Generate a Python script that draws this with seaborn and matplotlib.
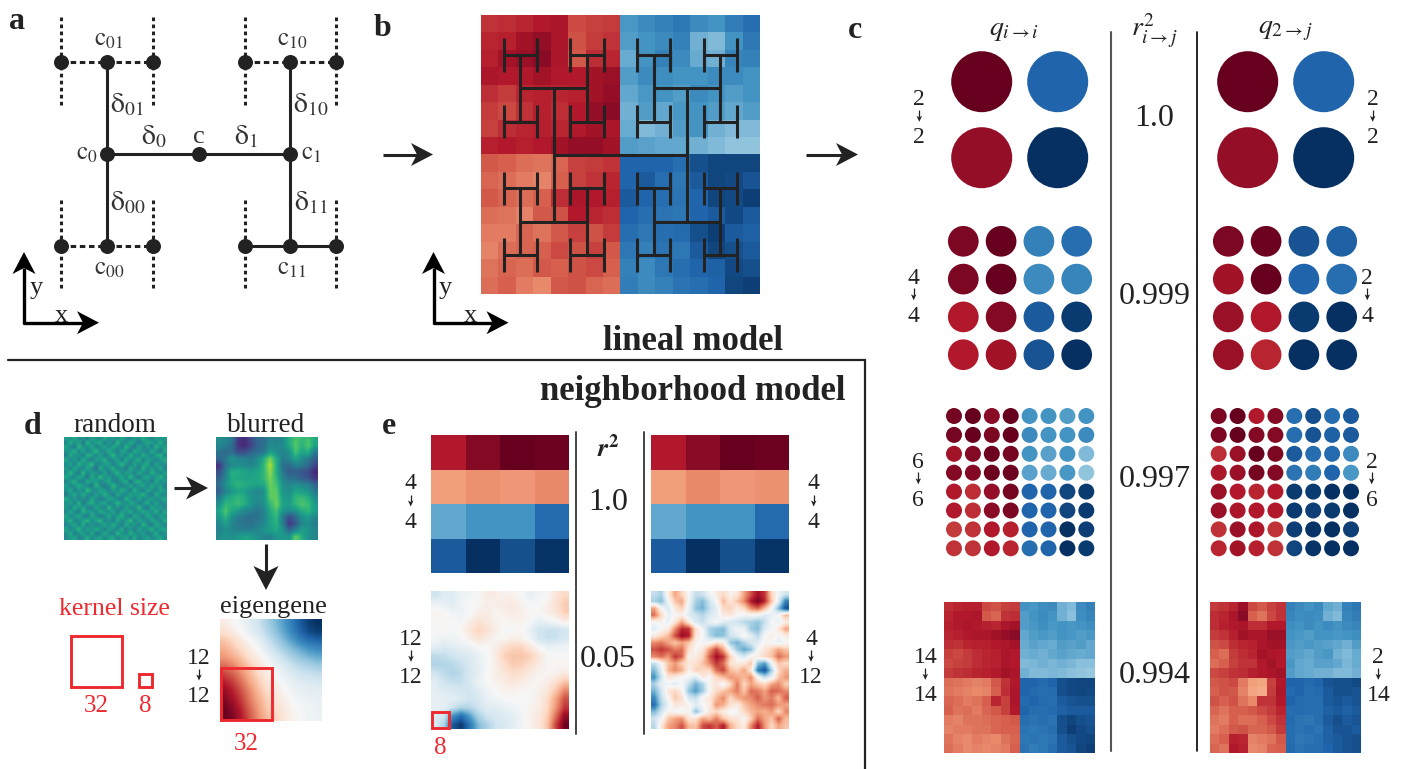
import numpy as np
import pandas as pd
import matplotlib
matplotlib.use("Agg")
import matplotlib.pyplot as plt
from matplotlib.patches import Polygon, Rectangle
import seaborn as sns

# ---------- data (0 = dark red end, 100 = dark blue end) ----------
c2_left = [[0, 90], [6, 100]]
c2_right = [[0, 90], [6, 100]]
c4_left = [[3, 0, 84, 88], [3, 0, 82, 83], [10, 4, 92, 98], [10, 8, 93, 100]]
c4_right = [[3, 1, 93, 91], [8, 0, 90, 88], [7, 10, 98, 100], [7, 12, 100, 100]]
c6_left = [
    [2, 0, 5, 0, 80, 80, 78, 80],
    [2, 0, 3, 0, 82, 80, 80, 82],
    [8, 4, 1, 2, 80, 77, 80, 72],
    [4, 4, 1, 1, 77, 75, 79, 70],
    [10, 13, 6, 2, 90, 90, 96, 98],
    [10, 13, 5, 3, 90, 90, 96, 98],
    [15, 14, 10, 11, 90, 90, 100, 97],
    [14, 14, 10, 12, 88, 90, 100, 98],
]
c6_right = [
    [3, 0, 10, 4, 88, 94, 88, 92],
    [3, 0, 4, 4, 88, 93, 91, 92],
    [13, 7, 0, 3, 92, 88, 89, 82],
    [9, 7, 2, 4, 87, 85, 90, 79],
    [7, 10, 12, 10, 98, 98, 100, 100],
    [7, 9, 10, 10, 98, 97, 98, 100],
    [14, 7, 9, 14, 97, 99, 100, 97],
    [12, 8, 11, 14, 96, 99, 100, 100],
]
b_grid = [
    [14, 13, 12, 10, 9, 17, 16, 15, 79, 82, 84, 86, 82, 80, 85, 88],
    [12, 11, 8, 6, 9, 18, 15, 14, 78, 80, 82, 84, 74, 72, 80, 86],
    [11, 8, 7, 5, 9, 19, 13, 12, 75, 80, 84, 82, 75, 74, 83, 84],
    [9, 10, 10, 8, 10, 10, 8, 7, 78, 82, 81, 80, 80, 82, 82, 80],
    [13, 15, 12, 11, 12, 11, 8, 6, 76, 79, 80, 78, 82, 80, 78, 80],
    [15, 17, 14, 11, 13, 10, 6, 5, 74, 78, 76, 79, 80, 78, 76, 78],
    [16, 13, 12, 11, 12, 10, 8, 9, 75, 72, 74, 78, 80, 74, 72, 72],
    [11, 10, 11, 10, 8, 6, 6, 8, 78, 77, 76, 76, 74, 72, 70, 70],
    [19, 20, 22, 23, 21, 16, 15, 14, 90, 90, 90, 88, 94, 96, 96, 96],
    [21, 22, 24, 25, 20, 16, 14, 12, 90, 92, 88, 86, 92, 96, 95, 93],
    [19, 21, 22, 20, 13, 9, 10, 11, 92, 90, 88, 87, 90, 96, 95, 97],
    [22, 23, 25, 19, 18, 10, 12, 13, 90, 88, 87, 86, 90, 92, 95, 92],
    [24, 24, 21, 23, 19, 16, 18, 15, 88, 86, 88, 89, 94, 97, 92, 91],
    [25, 22, 21, 20, 17, 18, 16, 19, 86, 84, 87, 86, 92, 96, 94, 92],
    [23, 21, 22, 19, 20, 18, 17, 20, 84, 82, 86, 88, 90, 91, 95, 94],
    [22, 20, 24, 26, 19, 18, 21, 22, 85, 82, 84, 87, 88, 90, 96, 97],
]
c14_left = [
    [13, 12, 11, 11, 17, 18, 16, 15, 80, 79, 81, 82, 74, 72, 82, 84],
    [12, 10, 10, 9, 19, 21, 14, 13, 78, 80, 82, 80, 74, 71, 81, 83],
    [11, 10, 9, 10, 11, 12, 9, 8, 78, 79, 81, 79, 80, 79, 80, 81],
    [12, 11, 10, 9, 9, 8, 6, 5, 76, 78, 79, 78, 80, 79, 78, 79],
    [13, 14, 12, 11, 11, 10, 9, 8, 75, 77, 76, 75, 78, 77, 78, 76],
    [16, 17, 15, 13, 12, 11, 9, 10, 74, 75, 74, 76, 77, 76, 75, 76],
    [17, 16, 15, 13, 12, 11, 9, 10, 72, 73, 74, 73, 74, 73, 71, 71],
    [15, 14, 13, 12, 11, 10, 8, 9, 74, 72, 72, 73, 72, 71, 70, 69],
    [22, 23, 24, 25, 24, 19, 14, 10, 90, 90, 89, 90, 94, 95, 96, 96],
    [23, 24, 25, 26, 25, 20, 13, 9, 90, 89, 88, 89, 94, 95, 96, 95],
    [21, 22, 24, 23, 20, 12, 16, 9, 89, 90, 89, 88, 92, 93, 94, 94],
    [20, 23, 22, 24, 21, 19, 16, 10, 90, 88, 88, 89, 91, 92, 92, 92],
    [24, 25, 23, 23, 22, 21, 20, 19, 88, 87, 88, 87, 94, 96, 94, 93],
    [25, 24, 24, 23, 23, 21, 20, 20, 87, 86, 87, 88, 94, 97, 95, 94],
    [23, 25, 26, 24, 25, 26, 23, 21, 86, 87, 86, 87, 92, 94, 95, 96],
    [22, 24, 26, 25, 26, 25, 24, 20, 87, 85, 86, 88, 92, 93, 96, 97],
]
c14_right = [
    [15, 14, 12, 7, 17, 19, 16, 14, 84, 82, 80, 82, 76, 74, 84, 86],
    [13, 12, 9, 5, 20, 23, 17, 14, 83, 81, 82, 81, 74, 72, 83, 85],
    [13, 11, 10, 9, 13, 13, 10, 10, 81, 80, 82, 80, 82, 80, 82, 83],
    [15, 14, 11, 8, 9, 9, 7, 7, 80, 79, 78, 80, 80, 79, 80, 81],
    [18, 17, 13, 12, 11, 9, 8, 8, 79, 78, 79, 78, 77, 76, 74, 78],
    [20, 22, 15, 13, 12, 8, 9, 10, 78, 77, 76, 78, 79, 74, 72, 75],
    [22, 20, 16, 14, 14, 10, 8, 10, 79, 76, 75, 77, 77, 76, 73, 75],
    [17, 16, 14, 13, 11, 10, 9, 8, 78, 76, 75, 74, 74, 72, 72, 74],
    [19, 18, 17, 24, 29, 30, 16, 10, 90, 90, 89, 90, 93, 94, 94, 95],
    [20, 18, 19, 25, 30, 31, 15, 9, 89, 90, 88, 89, 92, 94, 94, 93],
    [18, 20, 18, 23, 26, 14, 14, 10, 90, 89, 88, 88, 92, 93, 92, 93],
    [21, 23, 20, 20, 19, 17, 15, 12, 88, 89, 88, 88, 91, 92, 91, 92],
    [23, 24, 20, 22, 22, 20, 17, 14, 89, 87, 86, 88, 92, 94, 92, 93],
    [24, 22, 19, 18, 21, 21, 19, 15, 88, 87, 88, 87, 91, 93, 93, 92],
    [22, 20, 11, 12, 25, 24, 23, 19, 88, 86, 87, 88, 91, 92, 93, 94],
    [21, 23, 10, 11, 26, 25, 21, 20, 89, 87, 88, 88, 90, 92, 93, 94],
]
random_grid = [
    [58, 50, 62, 47, 55, 42, 60, 52, 45, 63, 50, 57, 46, 61, 52, 44, 58, 49, 64, 53, 46, 59, 50, 55],
    [45, 63, 52, 58, 40, 66, 48, 57, 62, 44, 55, 41, 68, 50, 47, 62, 53, 42, 52, 60, 55, 47, 63, 48],
    [60, 48, 41, 67, 52, 50, 61, 43, 52, 58, 47, 62, 53, 45, 66, 51, 40, 60, 47, 56, 43, 65, 52, 57],
    [50, 55, 64, 46, 59, 44, 53, 68, 47, 50, 64, 51, 44, 60, 53, 42, 62, 55, 50, 45, 62, 50, 41, 60],
    [43, 61, 50, 53, 42, 65, 57, 46, 60, 42, 53, 68, 48, 55, 46, 65, 50, 47, 63, 52, 48, 58, 64, 46],
    [62, 47, 56, 44, 63, 49, 41, 58, 52, 66, 45, 50, 59, 43, 62, 48, 54, 65, 42, 58, 51, 44, 53, 62],
    [48, 58, 43, 66, 51, 55, 70, 44, 49, 56, 60, 42, 54, 67, 50, 44, 59, 46, 55, 62, 41, 60, 49, 52],
    [55, 44, 62, 49, 47, 60, 50, 36, 64, 47, 52, 63, 46, 51, 40, 61, 52, 43, 66, 48, 57, 46, 62, 44],
    [47, 67, 51, 42, 68, 45, 56, 52, 43, 60, 41, 55, 65, 48, 58, 53, 46, 62, 50, 44, 64, 52, 45, 59],
    [61, 50, 46, 60, 53, 40, 63, 48, 69, 50, 57, 44, 52, 61, 45, 67, 50, 41, 56, 60, 47, 55, 66, 50],
    [44, 56, 65, 48, 43, 62, 52, 59, 45, 54, 62, 48, 42, 56, 63, 38, 57, 64, 48, 52, 42, 61, 48, 56],
    [58, 46, 52, 63, 57, 47, 41, 66, 50, 42, 49, 67, 53, 44, 50, 59, 47, 52, 61, 45, 63, 50, 57, 42],
    [50, 62, 42, 55, 46, 69, 54, 46, 60, 53, 44, 58, 47, 64, 55, 42, 65, 48, 43, 60, 52, 46, 62, 54],
    [41, 53, 60, 47, 62, 50, 44, 58, 49, 65, 52, 41, 61, 50, 46, 60, 53, 57, 65, 47, 41, 63, 50, 47],
    [64, 48, 55, 44, 52, 43, 61, 52, 42, 46, 60, 55, 48, 42, 66, 51, 44, 60, 46, 55, 58, 47, 54, 60],
    [49, 58, 45, 66, 40, 56, 65, 47, 57, 61, 43, 50, 66, 55, 47, 62, 56, 42, 52, 63, 44, 60, 43, 52],
    [56, 43, 63, 52, 59, 48, 42, 60, 51, 44, 68, 47, 53, 43, 60, 45, 50, 67, 47, 41, 62, 50, 56, 45],
    [46, 61, 50, 42, 64, 53, 57, 45, 63, 55, 48, 60, 41, 58, 52, 63, 46, 53, 60, 55, 48, 66, 44, 62],
    [60, 47, 55, 61, 46, 41, 62, 52, 40, 50, 62, 46, 57, 65, 48, 41, 62, 50, 44, 63, 52, 42, 58, 50],
    [52, 65, 44, 50, 57, 67, 47, 58, 66, 45, 53, 42, 62, 47, 55, 68, 47, 58, 52, 46, 60, 54, 47, 63],
    [44, 51, 60, 46, 63, 43, 55, 44, 50, 61, 47, 64, 50, 42, 60, 51, 56, 43, 66, 50, 41, 62, 52, 45],
    [59, 46, 53, 66, 48, 58, 50, 63, 54, 42, 58, 52, 46, 63, 44, 57, 42, 61, 47, 56, 64, 46, 57, 60],
    [50, 62, 42, 52, 57, 45, 62, 42, 47, 64, 49, 43, 66, 52, 48, 62, 53, 49, 58, 42, 50, 63, 44, 52],
    [47, 54, 61, 44, 50, 64, 48, 55, 60, 46, 57, 61, 45, 55, 60, 46, 64, 44, 52, 60, 47, 53, 61, 48],
]
blurred_grid = [
    [50, 46, 40, 16, 12, 22, 34, 36, 46, 44, 48, 62, 72, 66, 70, 60],
    [46, 42, 36, 14, 12, 20, 32, 36, 48, 46, 48, 60, 74, 64, 72, 58],
    [38, 34, 36, 24, 24, 32, 36, 40, 56, 50, 44, 50, 70, 58, 62, 40],
    [34, 40, 52, 46, 44, 42, 48, 62, 80, 60, 42, 46, 58, 48, 42, 30],
    [14, 38, 46, 50, 48, 44, 52, 66, 88, 62, 36, 36, 44, 42, 34, 20],
    [24, 42, 62, 62, 58, 56, 58, 66, 84, 62, 40, 28, 30, 26, 22, 12],
    [32, 44, 62, 60, 58, 58, 60, 66, 80, 66, 44, 38, 36, 30, 26, 16],
    [36, 50, 60, 66, 62, 60, 58, 60, 78, 70, 50, 46, 50, 46, 44, 32],
    [30, 44, 52, 58, 56, 50, 46, 50, 76, 74, 52, 50, 58, 56, 52, 40],
    [42, 56, 62, 66, 62, 52, 48, 52, 74, 76, 56, 52, 66, 68, 62, 48],
    [50, 66, 64, 68, 62, 52, 46, 50, 66, 78, 58, 56, 66, 72, 68, 54],
    [58, 72, 60, 54, 46, 44, 38, 44, 62, 70, 52, 48, 52, 62, 66, 56],
    [52, 66, 50, 42, 38, 36, 38, 44, 58, 66, 40, 24, 34, 50, 54, 46],
    [46, 56, 46, 40, 38, 38, 42, 46, 56, 64, 44, 16, 28, 46, 50, 42],
    [44, 50, 46, 44, 44, 44, 46, 52, 56, 60, 50, 34, 46, 56, 52, 46],
    [48, 52, 50, 54, 58, 56, 50, 46, 44, 52, 54, 52, 76, 62, 50, 46],
]
eigen_grid = [
    [46, 49, 52, 56, 60, 66, 72, 78, 85, 92, 97, 100],
    [42, 46, 50, 54, 58, 64, 70, 76, 83, 90, 95, 97],
    [36, 40, 45, 50, 54, 60, 66, 72, 78, 84, 88, 90],
    [32, 36, 41, 46, 50, 56, 62, 67, 72, 76, 80, 82],
    [28, 31, 36, 42, 47, 52, 57, 62, 66, 70, 73, 75],
    [22, 25, 31, 37, 43, 48, 53, 57, 61, 64, 66, 68],
    [16, 20, 26, 33, 40, 46, 50, 54, 57, 60, 61, 62],
    [10, 15, 22, 30, 37, 43, 48, 51, 54, 56, 57, 58],
    [6, 11, 18, 26, 34, 40, 45, 49, 52, 54, 55, 55],
    [3, 8, 15, 24, 31, 38, 43, 47, 50, 52, 53, 54],
    [1, 5, 12, 21, 29, 36, 41, 45, 49, 51, 52, 53],
    [0, 3, 10, 19, 27, 34, 39, 44, 48, 50, 52, 53],
]
e4_left = [[10, 4, 0, 1], [29, 27, 28, 26], [76, 80, 80, 89], [92, 100, 94, 99]]
e4_right = [[10, 5, 0, 1], [29, 26, 28, 27], [76, 80, 80, 89], [92, 100, 94, 99]]
e12_left = [
    [60, 56, 56, 53, 52, 50, 46, 46, 48, 48, 50, 54, 52, 50, 44, 40],
    [53, 54, 56, 52, 50, 49, 47, 47, 46, 45, 48, 51, 50, 48, 42, 37],
    [48, 49, 52, 53, 51, 47, 46, 49, 47, 46, 47, 49, 50, 47, 44, 38],
    [49, 49, 50, 51, 47, 43, 45, 48, 49, 48, 48, 50, 54, 52, 50, 46],
    [50, 49, 51, 49, 44, 39, 42, 47, 50, 50, 49, 54, 60, 61, 61, 59],
    [51, 53, 52, 51, 47, 43, 46, 49, 49, 47, 48, 52, 59, 61, 61, 58],
    [55, 57, 56, 54, 53, 50, 50, 47, 42, 39, 39, 44, 50, 54, 53, 52],
    [63, 62, 60, 58, 57, 53, 51, 46, 38, 36, 36, 38, 44, 49, 50, 50],
    [65, 65, 64, 61, 58, 54, 51, 47, 41, 37, 38, 41, 46, 49, 49, 49],
    [60, 63, 65, 63, 58, 55, 50, 47, 44, 41, 42, 46, 48, 49, 48, 46],
    [56, 60, 62, 62, 58, 53, 50, 48, 46, 44, 46, 48, 49, 47, 42, 36],
    [55, 57, 58, 59, 59, 56, 52, 50, 48, 48, 49, 49, 48, 44, 36, 26],
    [54, 55, 55, 57, 60, 58, 54, 52, 50, 50, 50, 50, 47, 41, 30, 18],
    [54, 55, 60, 65, 64, 60, 56, 56, 54, 52, 50, 48, 46, 40, 28, 14],
    [57, 60, 80, 88, 78, 66, 60, 58, 57, 55, 52, 48, 45, 38, 22, 6],
    [58, 65, 92, 98, 86, 72, 66, 60, 58, 55, 52, 48, 44, 36, 16, 1],
]
e12_right = [
    [62, 66, 46, 30, 40, 50, 62, 60, 52, 46, 40, 48, 44, 30, 18, 8, 14, 40, 52, 60],
    [66, 72, 52, 36, 30, 52, 66, 72, 60, 50, 34, 44, 36, 26, 10, 2, 12, 36, 56, 84],
    [30, 50, 58, 44, 38, 54, 70, 74, 62, 56, 40, 38, 46, 40, 26, 20, 34, 50, 72, 94],
    [22, 40, 54, 50, 48, 56, 60, 64, 58, 54, 46, 44, 50, 52, 50, 52, 56, 54, 50, 34],
    [50, 48, 54, 44, 30, 46, 58, 62, 54, 50, 56, 58, 60, 64, 66, 70, 62, 50, 54, 46],
    [56, 50, 46, 26, 12, 14, 42, 52, 66, 70, 72, 58, 52, 54, 68, 72, 56, 52, 44, 30],
    [46, 40, 34, 18, 6, 10, 44, 50, 64, 72, 70, 60, 56, 48, 56, 64, 50, 46, 52, 46],
    [26, 24, 30, 36, 30, 36, 48, 52, 50, 42, 46, 68, 74, 66, 58, 56, 48, 50, 54, 50],
    [18, 14, 18, 24, 22, 42, 50, 44, 28, 16, 30, 52, 68, 76, 70, 50, 44, 38, 30, 36],
    [26, 22, 28, 14, 20, 48, 46, 40, 20, 8, 14, 38, 52, 58, 48, 46, 40, 36, 22, 28],
    [62, 50, 36, 28, 38, 44, 42, 36, 26, 14, 22, 42, 46, 44, 36, 70, 78, 52, 36, 40],
    [72, 56, 34, 26, 32, 48, 38, 40, 40, 22, 16, 34, 38, 30, 44, 84, 94, 66, 40, 32],
    [80, 60, 44, 46, 50, 52, 58, 44, 50, 40, 34, 28, 30, 34, 26, 50, 62, 54, 36, 28],
    [66, 54, 52, 56, 50, 62, 74, 66, 48, 44, 52, 40, 24, 40, 30, 36, 40, 30, 26, 38],
    [74, 60, 44, 40, 48, 70, 78, 68, 50, 40, 36, 30, 24, 36, 22, 24, 30, 20, 22, 26],
    [82, 62, 50, 36, 42, 58, 62, 48, 44, 34, 26, 40, 32, 28, 26, 20, 28, 24, 34, 20],
    [88, 66, 54, 44, 46, 48, 56, 50, 46, 28, 32, 42, 46, 36, 30, 26, 24, 22, 28, 30],
    [72, 60, 48, 50, 52, 48, 70, 56, 44, 40, 46, 52, 50, 40, 34, 30, 32, 28, 40, 26],
    [60, 52, 36, 30, 28, 44, 42, 30, 34, 24, 36, 42, 44, 50, 38, 22, 30, 36, 20, 34],
    [64, 44, 30, 26, 18, 34, 36, 18, 14, 20, 10, 32, 40, 46, 26, 10, 28, 40, 30, 36],
]
row_labels = ["2", "4", "6", "14"]
r2_values = ["1.0", "0.999", "0.997", "0.994"]

# ---------- set-up ----------
W, H = 1403, 769
sns.set_theme(style="white")
plt.rcParams["font.family"] = ["Liberation Serif", "DejaVu Serif"]
plt.rcParams["mathtext.fontset"] = "stix"
INK = "#222222"
RED = "#ee2a30"
fig = plt.figure(figsize=(W / 100, H / 100), dpi=100, facecolor="white")


def panel(x0, y0, x1, y1):
    ax = fig.add_axes([x0 / W, 1 - y1 / H, (x1 - x0) / W, (y1 - y0) / H])
    ax.set_axis_off()
    return ax


def heat(values, box, cmap="RdBu", smooth=False):
    ax = panel(*box)
    arr = np.asarray(values, dtype=float) / 100
    sns.heatmap(pd.DataFrame(arr), ax=ax, cmap=cmap, vmin=0, vmax=1, cbar=False,
                xticklabels=False, yticklabels=False, rasterized=True)
    if smooth:
        n, m = arr.shape
        ax.collections[0].set_visible(False)
        ax.imshow(arr, cmap=cmap, vmin=0, vmax=1, extent=(0, m, n, 0), aspect="auto",
                  interpolation="bilinear")
    ax.set_axis_off()
    return ax


def dots(values, left, top, step, diam):
    arr = np.asarray(values, dtype=float) / 100
    n = arr.shape[0]
    rows, cols = np.indices(arr.shape)
    df = pd.DataFrame({"row": rows.ravel(), "col": cols.ravel(), "v": arr.ravel()})
    ax = panel(left - step / 2, top - step / 2, left + (n - .5) * step, top + (n - .5) * step)
    sns.scatterplot(data=df, x="col", y="row", hue="v", palette="RdBu", hue_norm=(0, 1),
                    s=(diam * .72) ** 2, linewidth=0, legend=False, ax=ax, clip_on=False)
    ax.set_xlim(-.5, n - .5)
    ax.set_ylim(n - .5, -.5)
    ax.set_axis_off()


# ---------- heatmaps ----------
heat(b_grid, (481, 15, 760, 294))
heat(c14_left, (944, 602, 1095, 753))
heat(c14_right, (1210, 602, 1361, 753))
heat(random_grid, (64, 437, 167, 540), cmap="viridis", smooth=True)
heat(blurred_grid, (216, 437, 318, 540), cmap="viridis", smooth=True)
heat(eigen_grid, (220, 619, 322, 721), smooth=True)
heat(e4_left, (431, 435, 569, 573))
heat(e4_right, (651, 435, 789, 573))
heat(e12_left, (431, 591, 569, 729), smooth=True)
heat(e12_right, (651, 591, 789, 729), smooth=True)

# ---------- dot grids ----------
dots(c2_left, 981.7, 81.7, 76, 61)
dots(c2_right, 1247.7, 81.7, 76, 61)
dots(c4_left, 963.3, 241.3, 37.8, 30.7)
dots(c4_right, 1228.3, 241.3, 37.8, 30.7)
dots(c6_left, 954, 416, 18.9, 16)
dots(c6_right, 1218.7, 416, 18.9, 16)

# ---------- overlay in pixel coordinates ----------
ov = fig.add_axes([0, 0, 1, 1], zorder=10)
ov.set_xlim(0, W)
ov.set_ylim(H, 0)
ov.set_axis_off()
ov.patch.set_alpha(0)


def arrow(x0, y0, x1, y1, length=22, width=23, notch=6, lw=2.2, color=INK):
    d = np.array([x1 - x0, y1 - y0], dtype=float)
    d /= np.hypot(*d)
    p = np.array([-d[1], d[0]])
    tip = np.array([x1, y1], dtype=float)
    back = tip - d * length
    ov.plot([x0, (tip - d * (length - notch))[0]], [y0, (tip - d * (length - notch))[1]],
            color=color, lw=lw, solid_capstyle="butt")
    ov.add_patch(Polygon([tip, back + p * width / 2, tip - d * (length - notch),
                          back - p * width / 2], closed=True, fc=color, ec="none"))


def txt(x, y, s, size=17, color=INK, **kw):
    ov.text(x, y + size * .16, s, fontsize=size, color=color, ha="center", va="center", **kw)


def stack(x, y_top, y_bot, top, bot, size=17):
    txt(x, y_top, top, size)
    txt(x, y_bot, bot, size)
    mid = (y_top + y_bot) / 2
    arrow(x, mid - 6, x, mid + 6, length=6, width=5.5, notch=1.5, lw=0.9)


# panel a
xo = [61, 153, 244.7, 336.3]
xi = [107, 290.3]
yt, ym, yb = 62.3, 154.3, 246
for x in xo:
    for y0, y1 in [(17, 108), (200, 291)]:
        ov.plot([x, x], [y0, y1], color=INK, lw=2.2, dashes=(1.2, 1.1), zorder=1)
for xa, xb, y, solid in [(xo[0], xo[1], yt, False), (xo[2], xo[3], yt, False),
                         (xo[0], xo[1], yb, False), (xo[2], xo[3], yb, True)]:
    if solid:
        ov.plot([xa, xb], [y, y], color=INK, lw=2.2, zorder=1)
    else:
        ov.plot([xa, xb], [y, y], color=INK, lw=2.2, dashes=(1.8, 1.2), zorder=1)
for x in xi:
    ov.plot([x, x], [yt, yb], color=INK, lw=2.2, zorder=1)
ov.plot([xi[0], xi[1]], [ym, ym], color=INK, lw=2.2, zorder=1)
nx = xo * 2 + xi * 3 + [199]
ny = [yt] * 4 + [yb] * 4 + [yt, yt, ym, ym, yb, yb, ym]
ov.scatter(nx, ny, s=(15 * .72) ** 2, color=INK, linewidths=0, zorder=3)


def sub(x, y, base, index, size=18, color="#333333"):
    ov.text(x, y, rf"$\mathrm{{{base}}}_{{\mathrm{{{index}}}}}$", fontsize=size, color=color,
            ha="center", va="center")


sub(109, 40, "c", "01")
sub(292.5, 40, "c", "10")
sub(87, 154, "c", "0")
sub(311, 154, "c", "1")
sub(109, 269, "c", "00")
sub(292, 269, "c", "11")
txt(199, 134, "c", 19, color="#333333")
for x, y, idx in [(127, 105, "01"), (311, 105, "10"), (154, 137, "0"), (246, 137, "1"),
                  (128, 203, "00"), (311, 203, "11")]:
    ov.text(x, y, rf"$\mathrm{{\delta}}_{{\mathrm{{{idx}}}}}$", fontsize=20, color="#333333",
            ha="center", va="center")

for cx in (24, 433.5):
    arrow(cx - 1, 322.7, cx + 75, 322.7, length=22, width=23, notch=6, lw=2.4, color="black")
    arrow(cx, 323.7, cx, 252, length=22, width=23, notch=6, lw=2.4, color="black")
    txt(cx + 12, 285, "y", 19)
    txt(cx + 37, 313, "x", 19)

arrow(383, 154.5, 433, 154.5)
arrow(806, 154.5, 858, 154.5)
arrow(174, 488, 208, 488)
arrow(266, 544, 266, 590, length=24, width=25)

# H-tree over panel b
def htree(x, y, half, horizontal, depth):
    if depth == 0:
        return
    if horizontal:
        ends = [(x - half, y), (x + half, y)]
    else:
        ends = [(x, y - half), (x, y + half)]
    ov.plot([ends[0][0], ends[1][0]], [ends[0][1], ends[1][1]], color=INK, lw=2.2,
            solid_capstyle="butt")
    next_half = half if horizontal else half / 2
    for ex, ey in ends:
        htree(ex, ey, next_half, not horizontal, depth - 1)


htree(620.3, 155, 66.7, True, 6)

# section rules
ov.plot([8, 865, 865], [360, 360, H], color=INK, lw=1.6, solid_joinstyle="miter")
txt(693, 338, "lineal model", 25, fontweight="bold")
txt(693, 387, "neighborhood model", 25, fontweight="bold")

# panel letters
for x, y, s in [(17, 18, "a"), (383, 25, "b"), (855, 27, "c"), (33, 423, "d"), (389, 423, "e")]:
    txt(x, y, s, 23, color="#222222", fontweight="bold")

# panel c titles, rules, values
txt(1014, 27, r"$q_{i\to i}$", 20)
txt(1155, 27, r"$r^2_{i\to j}$", 20)
txt(1285, 27, r"$q_{2\to j}$", 20)
ov.plot([1111, 1111], [32, 751], color="#555555", lw=1.5)
ov.plot([1197.3, 1197.3], [32, 751], color="black", lw=1.2)
for y, s in zip([115, 293, 476, 672], r2_values):
    txt(1154.5, y, s, 23)

stack(919.3, 96.7, 135, row_labels[0], row_labels[0])
stack(1372.7, 96.7, 135, "2", row_labels[0])
stack(913.7, 275.3, 313.3, row_labels[1], row_labels[1])
stack(1367.3, 275.3, 313.3, "2", row_labels[1])
stack(918.3, 459.3, 497.3, row_labels[2], row_labels[2])
stack(1371.7, 459.3, 497.3, "2", row_labels[2])
stack(925.3, 655, 692.7, row_labels[3], row_labels[3])
stack(1378.3, 655, 692.7, "2", row_labels[3])

# panel d
txt(115, 422, "random", 19.5)
txt(266, 422, "blurred", 19.5)
txt(273, 604, "eigengene", 19)
txt(114.5, 606, "kernel size", 18.5, color=RED)
for x0, y0, x1, y1 in [(71, 635.7, 122.3, 686.7), (139, 674, 152.3, 687.3),
                       (220.7, 668.3, 272.3, 720), (432, 711.7, 448.7, 727.7)]:
    ov.add_patch(Rectangle((x0, y0), x1 - x0, y1 - y0, fc="none", ec=RED, lw=2.1))
txt(96, 703, "32", 18, color=RED)
txt(145, 703, "8", 18, color=RED)
txt(246, 741, "32", 18, color=RED)
txt(440, 745, "8", 18, color=RED)
stack(199, 655.7, 693.3, "12", "12")

# panel e
ov.plot([576.3, 576.3], [432, 734], color="#444444", lw=1.4)
ov.plot([644.3, 644.3], [432, 734], color="#444444", lw=1.4)
txt(608, 445, r"$\boldsymbol{r}^{\mathbf{2}}$", 19)
txt(608.5, 499, "1.0", 23)
txt(608, 656, "0.05", 23)
stack(410.7, 481, 520, "4", "4")
stack(813.7, 481, 520, "4", "4")
stack(411, 636.7, 675, "12", "12")
stack(811, 636.7, 675, "4", "12")

fig.savefig("out.png", dpi=100)
